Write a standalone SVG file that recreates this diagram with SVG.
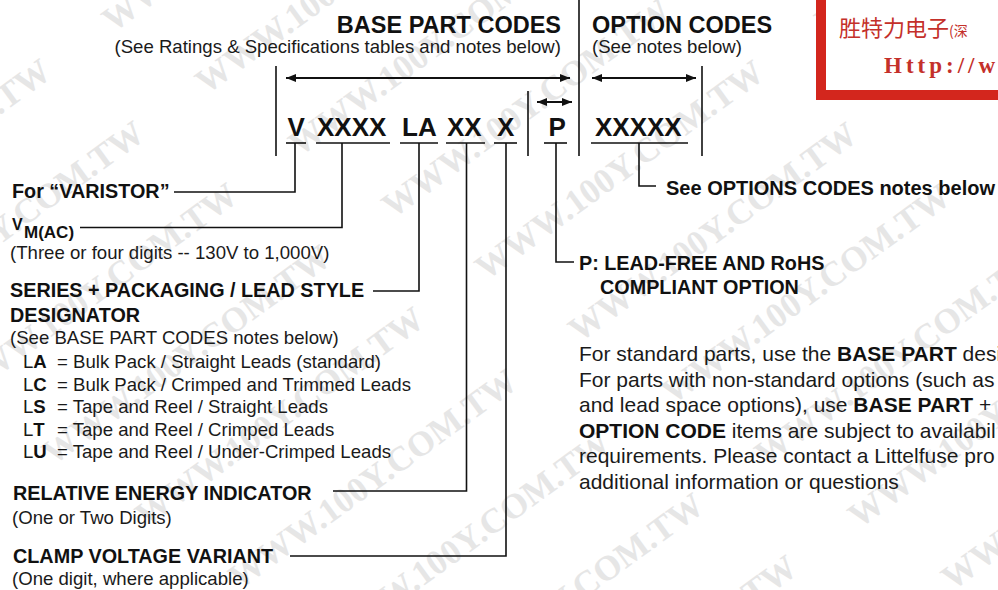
<svg xmlns="http://www.w3.org/2000/svg" width="998" height="590" viewBox="0 0 998 590">
<defs>
<style>
.b{font-family:"Liberation Sans",Arial,Helvetica,sans-serif;font-weight:bold;fill:#111}
.r{font-family:"Liberation Sans",Arial,Helvetica,sans-serif;font-weight:normal;fill:#1a1a1a}
.lbl{font-size:19.8px}
.hd{font-size:23.5px}
.sub{font-size:18.6px}
.code{font-size:26px}
.para{font-size:21px}
.wm{font-family:"Liberation Serif","Times New Roman",serif;font-weight:bold;font-size:35px;fill:#e6e6e6}
.ln{stroke:#111;stroke-width:1.6;fill:none}
.ul{stroke:#111;stroke-width:1.6}
.arr{stroke:#111;stroke-width:2;fill:none;marker-start:url(#ah);marker-end:url(#ah)}
.stamp{fill:#c4302a}
</style>
<marker id="ah" viewBox="0 0 10 8" refX="10" refY="4" markerWidth="10" markerHeight="8" markerUnits="userSpaceOnUse" orient="auto-start-reverse">
<path d="M0,0 L10,4 L0,8 Z" fill="#111"/>
</marker>
</defs>
<rect x="0" y="0" width="998" height="590" fill="#ffffff"/>

<g id="watermark" transform="rotate(-36)">
<text class="wm" x="-348" y="93">WWW.100Y.COM.TW</text>
<text class="wm" x="72" y="93">WWW.100Y.COM.TW</text>
<text class="wm" x="-309" y="198">WWW.100Y.COM.TW</text>
<text class="wm" x="111" y="198">WWW.100Y.COM.TW</text>
<text class="wm" x="-270" y="303">WWW.100Y.COM.TW</text>
<text class="wm" x="150" y="303">WWW.100Y.COM.TW</text>
<text class="wm" x="-231" y="408">WWW.100Y.COM.TW</text>
<text class="wm" x="189" y="408">WWW.100Y.COM.TW</text>
<text class="wm" x="-192" y="513">WWW.100Y.COM.TW</text>
<text class="wm" x="228" y="513">WWW.100Y.COM.TW</text>
<text class="wm" x="648" y="513">WWW.100Y.COM.TW</text>
<text class="wm" x="-153" y="618">WWW.100Y.COM.TW</text>
<text class="wm" x="267" y="618">WWW.100Y.COM.TW</text>
<text class="wm" x="687" y="618">WWW.100Y.COM.TW</text>
<text class="wm" x="-114" y="723">WWW.100Y.COM.TW</text>
<text class="wm" x="306" y="723">WWW.100Y.COM.TW</text>
<text class="wm" x="-75" y="828">WWW.100Y.COM.TW</text>
<text class="wm" x="345" y="828">WWW.100Y.COM.TW</text>
<text class="wm" x="-36" y="933">WWW.100Y.COM.TW</text>
<text class="wm" x="384" y="933">WWW.100Y.COM.TW</text>
<text class="wm" x="423" y="1038">WWW.100Y.COM.TW</text>
</g>

<g id="stamp">
<rect x="821" y="-10" width="200" height="105" fill="#ffffff" stroke="#d3261d" stroke-width="10"/>
<text class="stamp" x="839" y="36" font-family="Noto Sans CJK SC, sans-serif" font-size="22">胜特力电子<tspan font-size="14">(深</tspan></text>
<text class="stamp" x="884" y="73" font-family="Liberation Serif, serif" font-weight="bold" font-size="23" letter-spacing="4">Http://w</text>
</g>

<g id="header-base">
<text class="b hd" x="561" y="33" text-anchor="end">BASE PART CODES</text>
<text class="r sub" x="561" y="53" text-anchor="end">(See Ratings &amp; Specifications tables and notes below)</text>
</g>
<g id="header-option">
<text class="b hd" x="592" y="33">OPTION CODES</text>
<text class="r sub" x="592" y="53">(See notes below)</text>
</g>

<g id="dimension-lines">
<line class="ln" x1="579" y1="0" x2="579" y2="156"/>
<line class="ln" x1="276" y1="66" x2="276" y2="156"/>
<line class="ln" x1="702" y1="66" x2="702" y2="156"/>
<line class="ln" x1="528" y1="91" x2="528" y2="156"/>
<line class="arr" x1="286" y1="78" x2="570" y2="78"/>
<line class="arr" x1="592" y1="78" x2="696" y2="78"/>
<line class="arr" x1="537" y1="102" x2="572" y2="102"/>
</g>

<g id="code-V"><text class="b code" x="287.5" y="135.5">V</text><line class="ul" x1="286" y1="143" x2="306" y2="143"/></g>
<g id="code-XXXX"><text class="b code" x="317" y="135.5">XXXX</text><line class="ul" x1="316" y1="143" x2="390" y2="143"/></g>
<g id="code-LA"><text class="b code" x="402" y="135.5">LA</text><line class="ul" x1="400" y1="143" x2="438" y2="143"/></g>
<g id="code-XX"><text class="b code" x="447" y="135.5">XX</text><line class="ul" x1="446" y1="143" x2="485" y2="143"/></g>
<g id="code-X"><text class="b code" x="497" y="135.5">X</text><line class="ul" x1="494" y1="143" x2="517" y2="143"/></g>
<g id="code-P"><text class="b code" x="548.5" y="135.5">P</text><line class="ul" x1="544" y1="143" x2="567" y2="143"/></g>
<g id="code-XXXXX"><text class="b code" x="595" y="135.5">XXXXX</text><line class="ul" x1="591" y1="143" x2="688" y2="143"/></g>

<g id="connectors">
<path class="ln" d="M295,143 V192 H174"/>
<path class="ln" d="M342,143 V227.5 H80"/>
<path class="ln" d="M419,143 V291 H373"/>
<path class="ln" d="M466.5,143 V491 H333"/>
<path class="ln" d="M506,143 V556 H290"/>
<path class="ln" d="M556,143 V262 H574"/>
<path class="ln" d="M639,143 V186 H656"/>
</g>

<g id="label-varistor"><text class="b lbl" x="12" y="198">For “VARISTOR”</text></g>
<g id="label-vm">
<text class="b" font-size="16" x="12" y="230">V</text>
<text class="b" font-size="17" x="24" y="237.5">M(AC)</text>
<text class="r sub" x="10" y="259">(Three or four digits -- 130V to 1,000V)</text>
</g>
<g id="label-series">
<text class="b lbl" x="10" y="297">SERIES + PACKAGING / LEAD STYLE</text>
<text class="b lbl" x="10" y="322">DESIGNATOR</text>
<text class="r sub" x="10" y="344">(See BASE PART CODES notes below)</text>
<text class="r sub" x="23" y="368">L<tspan class="b">A</tspan></text><text class="r sub" x="57" y="368">= Bulk Pack / Straight Leads (standard)</text>
<text class="r sub" x="23" y="390.5">L<tspan class="b">C</tspan></text><text class="r sub" x="57" y="390.5">= Bulk Pack / Crimped and Trimmed Leads</text>
<text class="r sub" x="23" y="413">L<tspan class="b">S</tspan></text><text class="r sub" x="57" y="413">= Tape and Reel / Straight Leads</text>
<text class="r sub" x="23" y="435.5">L<tspan class="b">T</tspan></text><text class="r sub" x="57" y="435.5">= Tape and Reel / Crimped Leads</text>
<text class="r sub" x="23" y="458">L<tspan class="b">U</tspan></text><text class="r sub" x="57" y="458">= Tape and Reel / Under-Crimped Leads</text>
</g>
<g id="label-energy">
<text class="b lbl" x="13" y="499.5">RELATIVE ENERGY INDICATOR</text>
<text class="r sub" x="12" y="524">(One or Two Digits)</text>
</g>
<g id="label-clamp">
<text class="b lbl" x="13" y="562.5">CLAMP VOLTAGE VARIANT</text>
<text class="r sub" x="12" y="585">(One digit, where applicable)</text>
</g>
<g id="label-leadfree">
<text class="b lbl" x="579" y="270">P: LEAD-FREE AND RoHS</text>
<text class="b lbl" x="600" y="294">COMPLIANT OPTION</text>
</g>
<g id="label-options">
<text class="b" font-size="20" x="666" y="195">See OPTIONS CODES notes below</text>
</g>

<g id="notes">
<text class="r para" x="579" y="361">For standard parts, use the <tspan class="b">BASE PART</tspan> desi</text>
<text class="r para" x="579" y="386.5">For parts with non-standard options (such as</text>
<text class="r para" x="579" y="412">and lead space options), use <tspan class="b">BASE PART</tspan> +</text>
<text class="r para" x="579" y="437.5"><tspan class="b">OPTION CODE</tspan> items are subject to availabil</text>
<text class="r para" x="579" y="463">requirements. Please contact a Littelfuse pro</text>
<text class="r para" x="579" y="488.5">additional information or questions</text>
</g>
</svg>
